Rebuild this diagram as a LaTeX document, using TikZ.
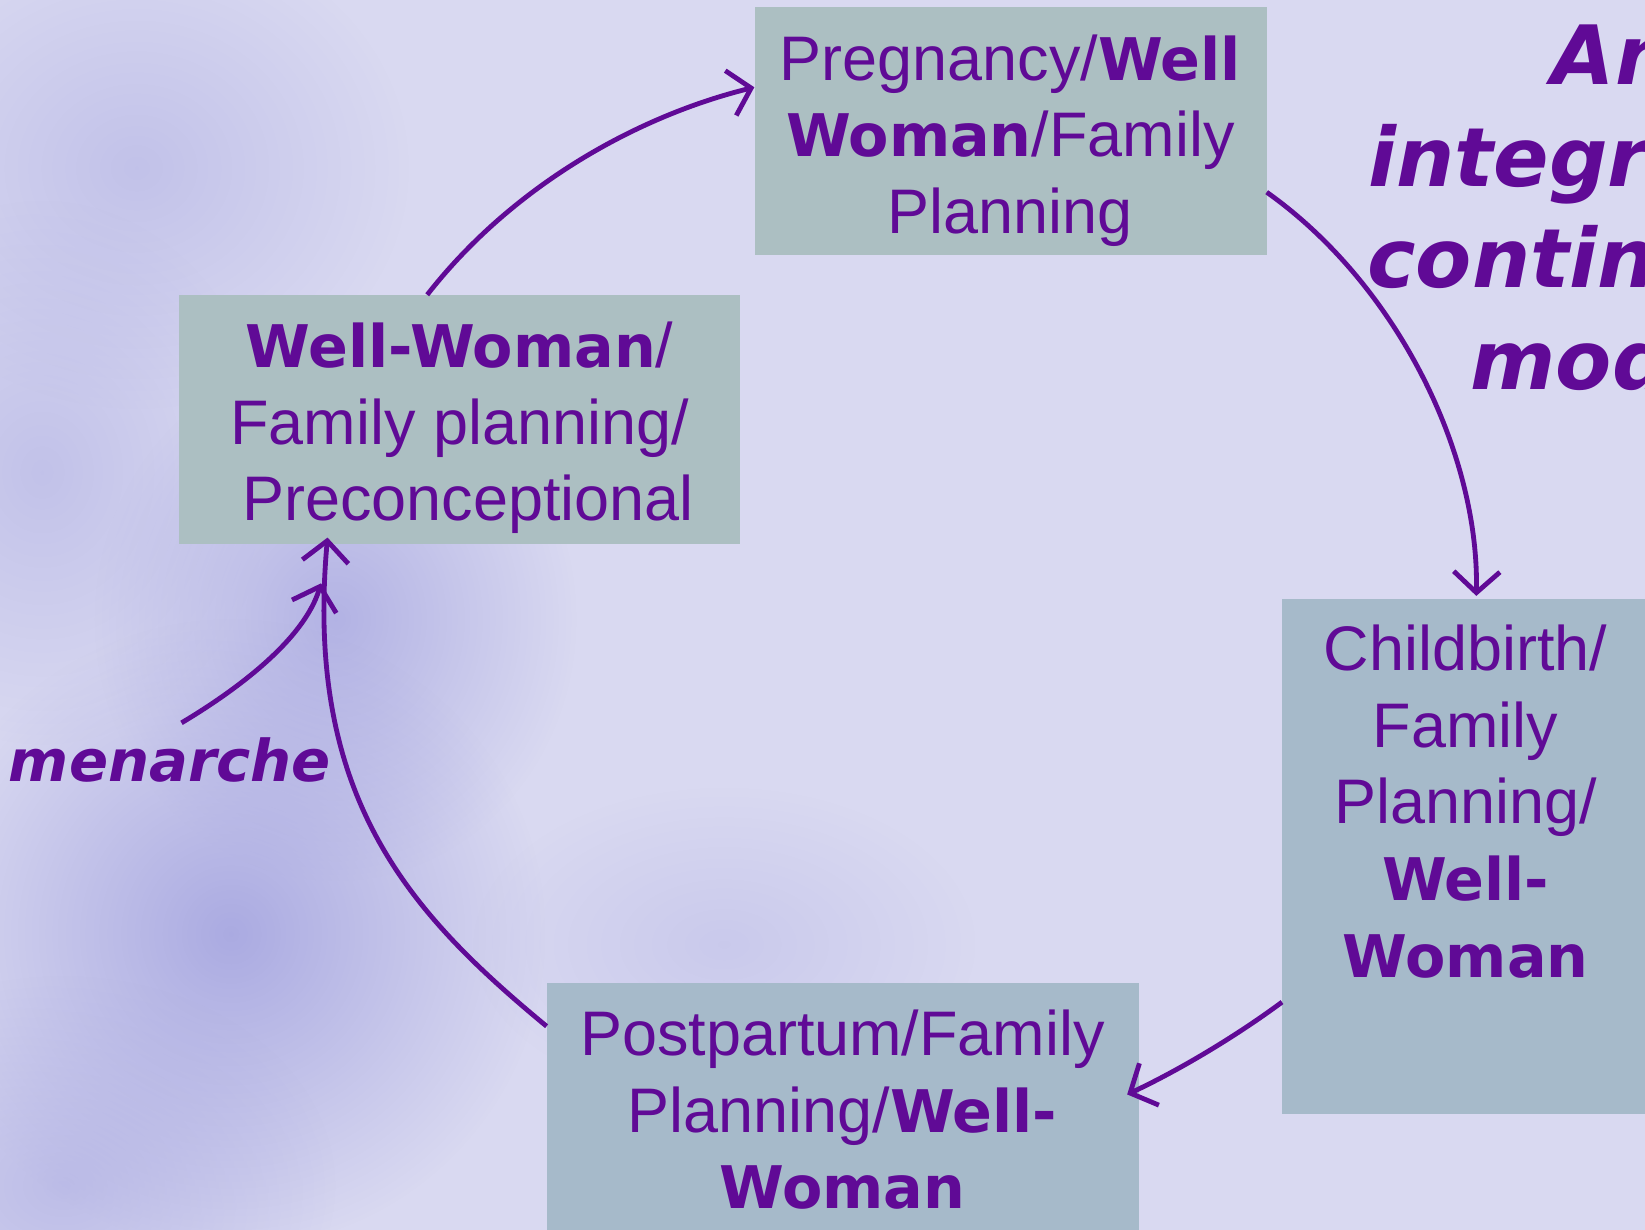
\documentclass[tikz,border=0pt]{standalone}
\usepackage{fontspec}
\setmainfont{Liberation Sans}
\newfontfamily\dvfam{DejaVu Sans}
\usetikzlibrary{arrows.meta,fadings}
\definecolor{bgc}{RGB}{217,217,241}
\definecolor{blobc}{RGB}{160,160,222}
\definecolor{ink}{RGB}{96,10,150}
\definecolor{boxa}{RGB}{172,191,194}
\definecolor{boxb}{RGB}{166,186,202}
\tikzfading[name=softblob, inner color=transparent!10, outer color=transparent!100]
\newcommand\bw[1]{{\dvfam\bfseries\fontsize{56}{73}\selectfont #1}}
\tikzset{
 box/.style={rectangle, inner sep=0pt, anchor=north west},
 txt/.style={text=ink, align=center, font=\fontsize{60}{73}\selectfont, inner sep=0pt},
 conn/.style={draw=ink, line width=4.6pt, -{Straight Barb[length=20pt,width=44pt]}},
 ttl/.style={text=ink, align=center, font=\dvfam\bfseries\itshape\fontsize{78}{97}\selectfont, inner sep=0pt},
 blob/.style={fill=blobc, path fading=softblob},
}
\begin{document}
\begin{tikzpicture}[x=1pt,y=-1pt]
\useasboundingbox (0,0) rectangle (1568,1172);
\clip (0,0) rectangle (1568,1172);
\fill[bgc] (0,0) rectangle (1568,1172);
% background shading blobs
\fill[blob, fill opacity=0.45] (130,160) ellipse [x radius=260, y radius=230];
\fill[blob, fill opacity=0.45] (40,450) ellipse [x radius=220, y radius=260];
\fill[blob, fill opacity=0.75] (320,590) ellipse [x radius=230, y radius=250];
\fill[blob, fill opacity=0.9] (220,890) ellipse [x radius=300, y radius=300];
\fill[blob, fill opacity=0.55] (60,1130) ellipse [x radius=260, y radius=200];
\fill[blob, fill opacity=0.3] (690,900) ellipse [x radius=240, y radius=150];

% boxes
\node[box, fill=boxa, minimum width=488pt, minimum height=237pt] (preg) at (719,6) {};
\node[box, fill=boxa, minimum width=535pt, minimum height=237pt] (well) at (170,281) {};
\node[box, fill=boxb, minimum width=360pt, minimum height=491pt] (child) at (1222,571) {};
\node[box, fill=boxb, minimum width=564pt, minimum height=250pt] (post) at (521,937) {};

% texts
\node[txt] (pregt) at (963,134) {Pregnancy/\bw{Well}\\\bw{Woman}/Family\\Planning};
\node[txt] (wellt) at (438,408) {\bw{Well-Woman}/\\Family planning/\\\hspace*{16pt}Preconceptional};
\node[txt] (childt) at (1397,764) {Childbirth/\\Family\\Planning/\\\bw{Well-}\\\bw{Woman}};
\node[txt] (postt) at (803,1058) {Postpartum/Family\\Planning/\bw{Well-}\\\bw{Woman}};
\node[ttl] (title) at (1537,198) {An\\integrated\\continuum\\model};
\node[text=ink, font=\dvfam\bfseries\itshape\fontsize{55}{60}\selectfont, inner sep=0pt, anchor=base] (men) at (162,745) {menarche};
\coordinate (mtip) at (306,556);

% connectors
\draw[conn] ([xshift=-30.5pt]well.north) .. controls (490,175) and (610,110) .. ([yshift=41.5pt]preg.west);
\draw[conn] ([yshift=-58.5pt]preg.east) .. controls (1330,270) and (1410,430) .. ([xshift=5pt,yshift=3pt]child.north);
\draw[conn] ([yshift=-138.5pt]child.west) .. controls (1175,990) and (1120,1022) .. ([xshift=-11pt,yshift=19pt]post.east);
\draw[conn] ([yshift=84pt]post.west) .. controls (390,870) and (290,760) .. ([xshift=-125.5pt,yshift=6pt]well.south);
\draw[conn] ([shift={(11,-14)}]men.north) .. controls (225,658) and (290,610) .. (mtip);
\end{tikzpicture}
\end{document}
